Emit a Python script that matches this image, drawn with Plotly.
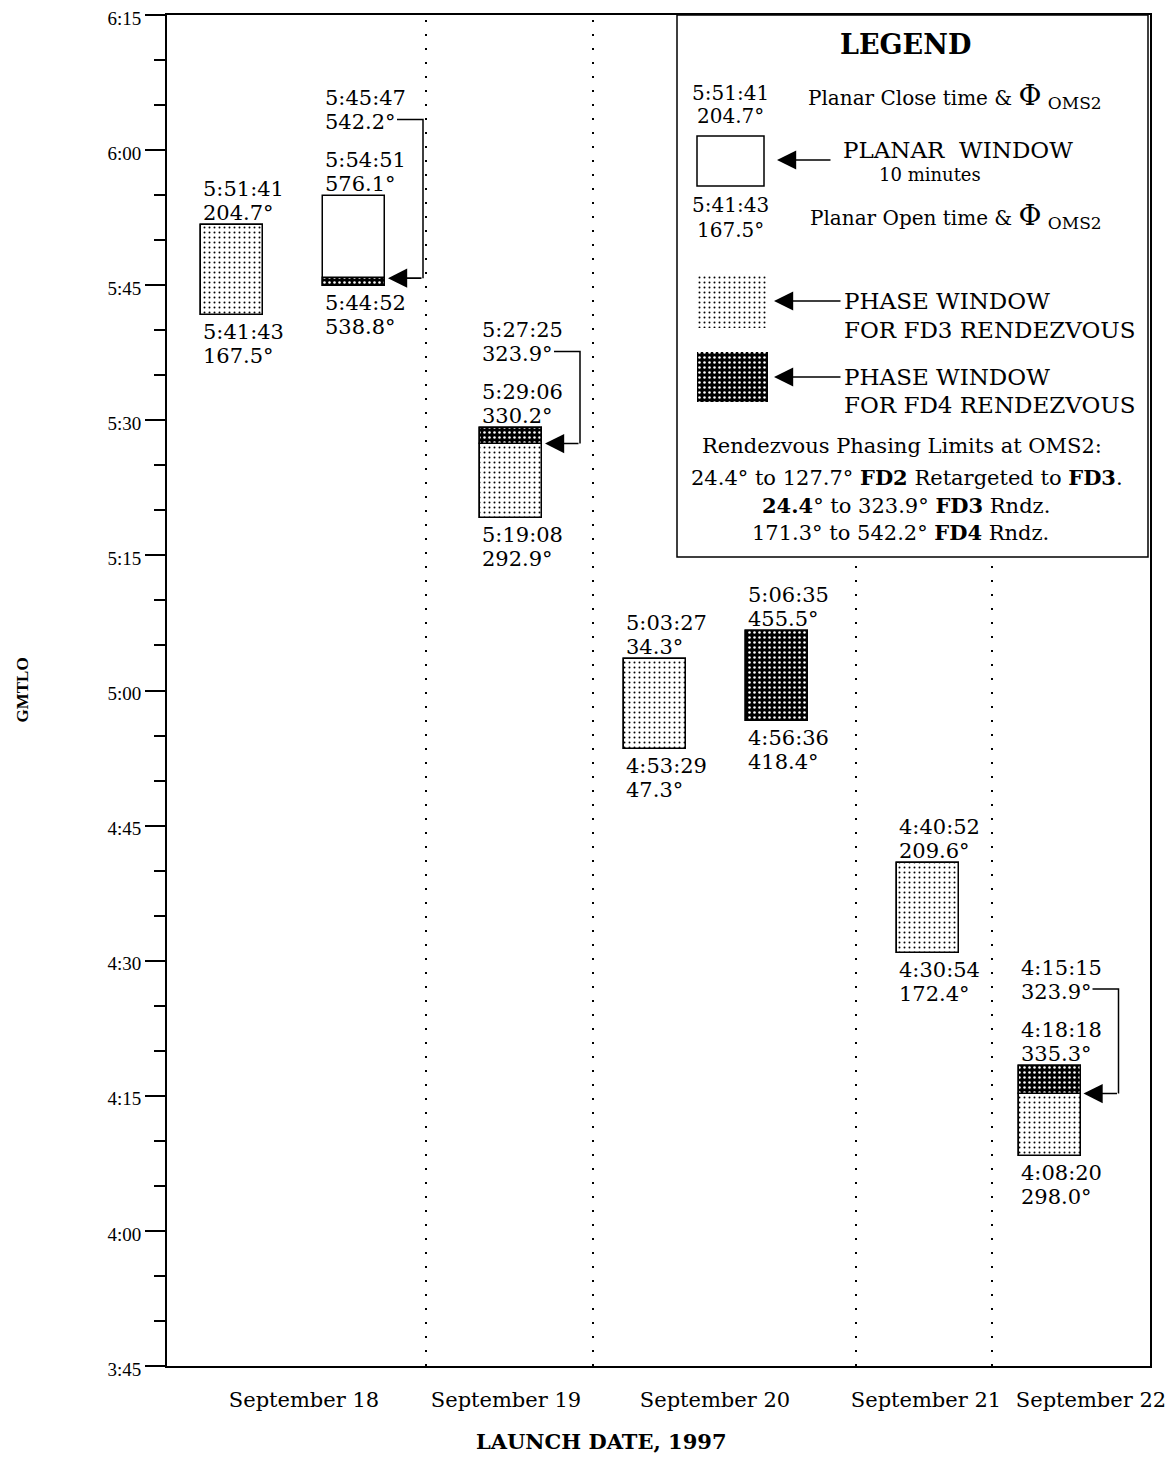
import plotly.graph_objects as go

# launch-date slots, one planar window per slot
win_slot = ["September 18", "September 18", "September 19", "September 20",
            "September 20", "September 21", "September 22"]
open_time = ["5:41:43", "5:44:52", "5:19:08", "4:53:29", "4:56:36", "4:30:54", "4:08:20"]
open_phase = ["167.5°", "538.8°", "292.9°", "47.3°", "418.4°", "172.4°", "298.0°"]
close_time = ["5:51:41", "5:54:51", "5:29:06", "5:03:27", "5:06:35", "4:40:52", "4:18:18"]
close_phase = ["204.7°", "576.1°", "330.2°", "34.3°", "455.5°", "209.6°", "335.3°"]

# phase windows (index into the planar windows above)
fd3_win = [0, 2, 3, 5, 6]
fd3_start = ["5:41:43", "5:19:08", "4:53:29", "4:30:54", "4:08:20"]
fd3_end = ["5:51:41", "5:27:25", "5:03:27", "4:40:52", "4:15:15"]
fd4_win = [1, 2, 4, 6]
fd4_start = ["5:44:52", "5:27:25", "4:56:36", "4:15:15"]
fd4_end = ["5:45:47", "5:29:06", "5:06:35", "4:18:18"]

# phasing limit markers
limit_win = [1, 2, 6]
limit_time = ["5:45:47", "5:27:25", "4:15:15"]
limit_phase = ["542.2°", "323.9°", "323.9°"]

dates = ["September 18", "September 19", "September 20", "September 21", "September 22"]
y_ticks = ["3:45", "4:00", "4:15", "4:30", "4:45", "5:00", "5:15", "5:30", "5:45", "6:00", "6:15"]

# ---- layout helpers (pixel geometry of the original sheet) ----
X0, X1, Y0, Y1 = 167, 1150, 15, 1366
PPM = (Y1 - Y0) / 150.0
BODY = 8  # default page margin around the plot div


def hms(t):
    p = [int(v) for v in t.split(":")]
    return p[0] * 60 + p[1] + (p[2] / 60.0 if len(p) > 2 else 0)


def px(x):
    return x - X0


def py(y):
    return 375 - (y - Y0) / PPM


win_center = [px(v) for v in [232, 354, 511, 654.5, 776.5, 927.5, 1049.5]]
win_w = 62
date_center = [px(v) for v in [304, 506, 715, 926, 1091]]
divider_x = [px(v) for v in [426, 593, 856, 992]]

SERIF = "DejaVu Serif"
light_pat = dict(shape=".", fgcolor="black", bgcolor="white", size=5, solidity=0.12, fillmode="replace")
dark_pat = dict(shape=".", fgcolor="white", bgcolor="black", size=5, solidity=0.2, fillmode="replace")

fig = go.Figure()

# planar windows
fig.add_trace(go.Bar(
    x=win_center, base=[hms(t) for t in open_time],
    y=[hms(c) - hms(o) for o, c in zip(open_time, close_time)],
    width=win_w, marker=dict(color="white", line=dict(color="black", width=1.5)),
    showlegend=False, hoverinfo="skip"))

fig.add_trace(go.Bar(
    x=[win_center[i] for i in fd3_win], base=[hms(t) for t in fd3_start],
    y=[hms(e) - hms(s) for s, e in zip(fd3_start, fd3_end)],
    width=win_w, marker=dict(color="white", line=dict(color="black", width=1.5), pattern=light_pat),
    showlegend=False, hoverinfo="skip"))

fig.add_trace(go.Bar(
    x=[win_center[i] for i in fd4_win], base=[hms(t) for t in fd4_start],
    y=[hms(e) - hms(s) for s, e in zip(fd4_start, fd4_end)],
    width=win_w, marker=dict(color="black", line=dict(color="black", width=1.5), pattern=dark_pat),
    showlegend=False, hoverinfo="skip"))

ann = []


def label(x, y, text, yshift=0, size=21, xanchor="left", bold=False):
    ann.append(dict(x=x, y=y, text=f"<b>{text}</b>" if bold else text, showarrow=False,
                    xanchor=xanchor, yanchor="middle", yshift=yshift,
                    font=dict(family=SERIF, size=size, color="black")))


def arrow(x_head, x_tail, y):
    ann.append(dict(x=x_head, y=y, ax=x_tail, ay=y, axref="x", ayref="y",
                    text="", showarrow=True, arrowhead=2, arrowsize=2.4, arrowwidth=1.6,
                    arrowcolor="black", standoff=0))


for i in range(len(win_center)):
    left = win_center[i] - win_w / 2
    label(left, hms(close_time[i]), close_time[i], 36)
    label(left, hms(close_time[i]), close_phase[i], 12)
    label(left, hms(open_time[i]), open_time[i], -17)
    label(left, hms(open_time[i]), open_phase[i], -41)

for w, t, ph in zip(limit_win, limit_time, limit_phase):
    left = win_center[w] - win_w / 2
    right = win_center[w] + win_w / 2
    top = hms(close_time[w])
    label(left, top, t, 98)
    label(left, top, ph, 74)
    ytop = top + 77 / PPM
    fig.add_trace(go.Scatter(x=[left + 74, right + 38, right + 38], y=[ytop, ytop, hms(t)],
                             mode="lines", line=dict(color="black", width=1.5),
                             showlegend=False, hoverinfo="skip"))
    arrow(right + 3, right + 38, hms(t))

# ---- legend panel ----
shapes = [dict(type="line", x0=d, x1=d, y0=225, y1=375, xref="x", yref="y",
               line=dict(color="black", width=2, dash="2px,12px"), layer="below")
          for d in divider_x]
shapes.append(dict(type="rect", x0=px(677), x1=px(1148), y0=py(557), y1=py(15),
                   xref="x", yref="y", fillcolor="white", line=dict(color="black", width=1.5),
                   layer="below"))
shapes.append(dict(type="rect", x0=px(697), x1=px(764), y0=py(186), y1=py(136),
                   xref="x", yref="y", fillcolor="white", line=dict(color="black", width=1.5)))

fig.add_trace(go.Bar(x=[px(732.5)], base=[py(328)], y=[py(275) - py(328)], width=71,
                     marker=dict(color="white", line=dict(width=0), pattern=light_pat),
                     showlegend=False, hoverinfo="skip"))
fig.add_trace(go.Bar(x=[px(732.5)], base=[py(402)], y=[py(352) - py(402)], width=71,
                     marker=dict(color="black", line=dict(width=0), pattern=dark_pat),
                     showlegend=False, hoverinfo="skip"))

arrow(px(777), px(832), py(160))
arrow(px(774), px(842), py(301))
arrow(px(774), px(842), py(377))

label(px(905), py(44), "LEGEND", size=27, xanchor="center", bold=True)
label(px(730), py(93), "5:51:41", size=20, xanchor="center")
label(px(730), py(116), "204.7°", size=20, xanchor="center")
label(px(730), py(205), "5:41:43", size=20, xanchor="center")
label(px(730), py(230), "167.5°", size=20, xanchor="center")
phi = "<span style='font-size:28px'>Φ</span> <sub><span style='font-size:17px'>OMS2</span></sub>"
label(px(806), py(96), "Planar Close time &amp; " + phi, size=20)
label(px(808), py(216), "Planar Open time &amp; " + phi, size=20)
label(px(958), py(150), "PLANAR  WINDOW", size=23, xanchor="center")
label(px(930), py(174), "10 minutes", size=18, xanchor="center")
label(px(842), py(301), "PHASE WINDOW", size=23)
label(px(842), py(330), "FOR FD3 RENDEZVOUS", size=23)
label(px(842), py(377), "PHASE WINDOW", size=23)
label(px(842), py(405), "FOR FD4 RENDEZVOUS", size=23)
label(px(902), py(446), "Rendezvous Phasing Limits at OMS2:", size=21, xanchor="center")
label(px(907), py(477), "24.4° to 127.7° <b>FD2</b> Retargeted to <b>FD3</b>.", size=21, xanchor="center")
label(px(906), py(505), "<b>24.4</b>° to 323.9° <b>FD3</b> Rndz.", size=21, xanchor="center")
label(px(900), py(532), "171.3° to 542.2° <b>FD4</b> Rndz.", size=21, xanchor="center")

# axis titles
ann.append(dict(x=(22 - X0) / (X1 - X0), y=0.5, xref="paper", yref="paper", text="<b>GMTLO</b>",
                textangle=-90, showarrow=False, xanchor="center", yanchor="middle",
                font=dict(family="Liberation Serif", size=17, color="black")))
ann.append(dict(x=(601 - X0) / (X1 - X0), y=-(1441 - Y1) / (Y1 - Y0), xref="paper", yref="paper",
                text="<b>LAUNCH DATE, 1997</b>", showarrow=False, xanchor="center", yanchor="middle",
                font=dict(family=SERIF, size=21, color="black")))

W, H = 1174 - BODY, 1479 - BODY
fig.update_layout(
    width=W, height=H,
    margin=dict(l=X0 - BODY, r=W - (X1 - BODY), t=Y0 - BODY, b=H - (Y1 - BODY), autoexpand=False),
    paper_bgcolor="white", plot_bgcolor="white", barmode="overlay", bargap=0,
    showlegend=False, shapes=shapes, annotations=ann,
    font=dict(family=SERIF, color="black"),
)
fig.update_xaxes(range=[0, X1 - X0], showgrid=False, zeroline=False, showline=True, mirror=True,
                 linecolor="black", linewidth=2, ticks="", tickvals=date_center, ticktext=dates,
                 automargin=False, ticklabelstandoff=14, ticklabeloverflow="allow",
                 tickfont=dict(family=SERIF, size=21, color="black"))
fig.update_yaxes(range=[225, 375], showgrid=False, zeroline=False, showline=True, mirror=True,
                 linecolor="black", linewidth=2, ticks="outside", ticklen=20, tickwidth=1.5,
                 tickcolor="black", tickvals=[225 + 15 * i for i in range(len(y_ticks))],
                 ticktext=y_ticks, automargin=False, ticklabeloverflow="allow",
                 ticklabelshift=3,
                 tickfont=dict(family="Liberation Serif", size=19, color="black"),
                 minor=dict(ticks="outside", ticklen=11, tickwidth=1.5, tickcolor="black",
                            tickvals=[225 + 5 * i for i in range(31)]))

fig.write_html("out.html")
